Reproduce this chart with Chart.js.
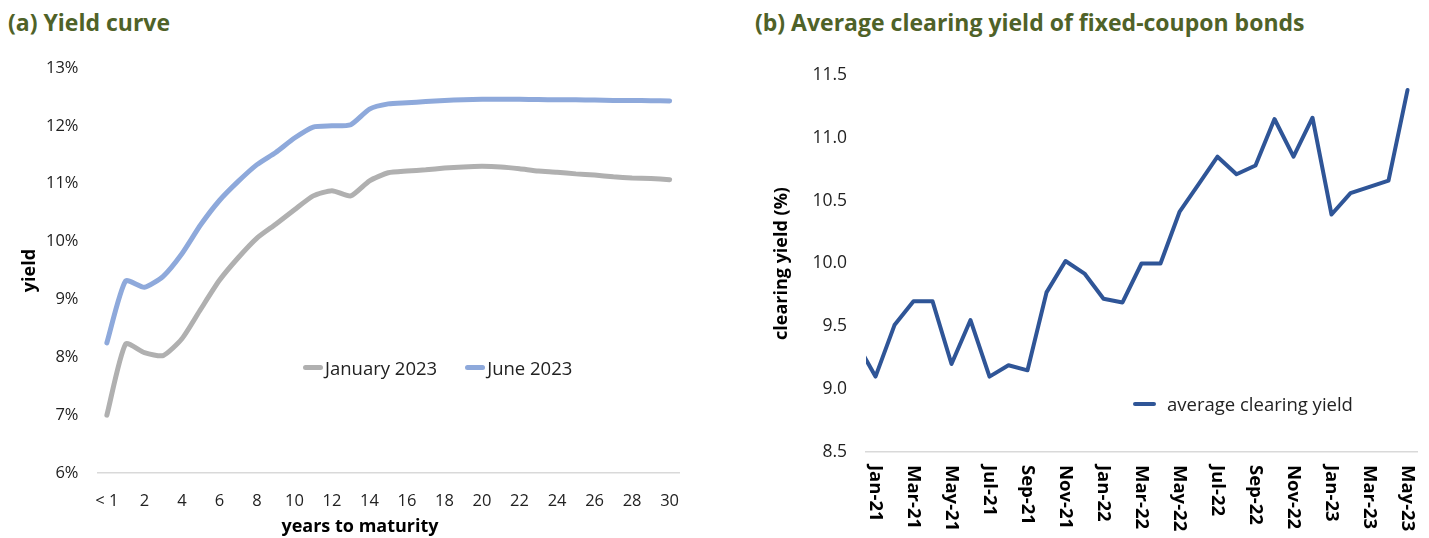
<!DOCTYPE html>
<html>
<head>
<meta charset="utf-8">
<script src="https://cdn.jsdelivr.net/npm/chart.js@4.4.0/dist/chart.umd.min.js"></script>
<style>
  body { margin: 0; width: 1429px; height: 538px; background: #fff; position: relative; overflow: hidden; font-family: "Open Sans", "Noto Sans", sans-serif; }
  .title { position: absolute; top: 6px; font-weight: bold; font-size: 23px; color: #4F6228; white-space: nowrap; }
  .box { position: absolute; top: 0; height: 538px; }
  .legend { position: absolute; display: flex; align-items: center; font-size: 18.5px; color: #222; white-space: nowrap; }
  .swatch { display: inline-block; height: 5px; border-radius: 3px; }
  .axis-title { position: absolute; font-weight: bold; font-size: 18px; color: #000; white-space: nowrap; transform: translateX(-50%); }
</style>
</head>
<body>
<div class="title" style="left:8px">(a) Yield curve</div>
<div class="title" style="left:755px">(b) Average clearing yield of fixed-coupon bonds</div>

<div class="box" style="left:0;width:700px"><canvas id="chartA"></canvas></div>
<div class="box" style="left:720px;width:709px"><canvas id="chartB"></canvas></div>

<div class="axis-title" style="left:360px;top:513px">years to maturity</div>

<div class="legend" style="left:303px;top:355px">
  <span class="swatch" style="width:20px;background:#B0B0B0"></span><span style="margin-left:2px">January 2023</span>
  <span class="swatch" style="width:20px;background:#8EA9DB;margin-left:28px"></span><span style="margin-left:2px">June 2023</span>
</div>
<div class="legend" style="left:1133px;top:391px">
  <span class="swatch" style="width:23px;height:4px;background:#2F5597"></span><span style="margin-left:11px">average clearing yield</span>
</div>

<script>
// (a) yield curve
const maturityLabels = ["< 1", "1", "2", "3", "4", "5", "6", "7", "8", "9", "10",
  "11", "12", "13", "14", "15", "16", "17", "18", "19", "20",
  "21", "22", "23", "24", "25", "26", "27", "28", "29", "30"];
const yieldJan2023 = [7.00, 8.23, 8.08, 8.03, 8.32, 8.83, 9.33, 9.72, 10.06, 10.30, 10.55,
  10.79, 10.88, 10.79, 11.05, 11.19, 11.22, 11.24, 11.27, 11.29, 11.30,
  11.29, 11.26, 11.22, 11.20, 11.17, 11.15, 11.12, 11.10, 11.09, 11.07];
const yieldJun2023 = [8.25, 9.32, 9.21, 9.40, 9.79, 10.29, 10.71, 11.04, 11.33, 11.54, 11.79,
  11.98, 12.00, 12.02, 12.29, 12.38, 12.40, 12.42, 12.44, 12.45, 12.46,
  12.46, 12.46, 12.455, 12.45, 12.45, 12.445, 12.44, 12.44, 12.435, 12.43];
const yieldTicks = [6, 7, 8, 9, 10, 11, 12, 13];

// (b) average clearing yield, Dec-20 point only shows as the cut-off start of the line
const months = ["Dec-20", "Jan-21", "Feb-21", "Mar-21", "Apr-21", "May-21", "Jun-21", "Jul-21", "Aug-21",
  "Sep-21", "Oct-21", "Nov-21", "Dec-21", "Jan-22", "Feb-22", "Mar-22", "Apr-22", "May-22",
  "Jun-22", "Jul-22", "Aug-22", "Sep-22", "Oct-22", "Nov-22", "Dec-22", "Jan-23", "Feb-23",
  "Mar-23", "Apr-23", "May-23"];
const clearingYield = [9.37, 9.10, 9.51, 9.70, 9.70, 9.20, 9.55, 9.10, 9.19,
  9.15, 9.77, 10.02, 9.92, 9.72, 9.69, 10.00, 10.00, 10.41,
  10.63, 10.85, 10.71, 10.78, 11.15, 10.85, 11.16, 10.39, 10.56,
  10.61, 10.66, 11.38];
const clearingTicks = [8.5, 9.0, 9.5, 10.0, 10.5, 11.0, 11.5];

const FONT = '"Open Sans", "Noto Sans", sans-serif';
const TEXT = "#222";

new Chart(document.getElementById("chartA"), {
  type: "line",
  data: {
    labels: maturityLabels,
    datasets: [
      { label: "January 2023", data: yieldJan2023, borderColor: "#B0B0B0", borderWidth: 5, tension: 0.2,
        pointRadius: 0, borderCapStyle: "round", borderJoinStyle: "round" },
      { label: "June 2023", data: yieldJun2023, borderColor: "#8EA9DB", borderWidth: 5, tension: 0.2,
        pointRadius: 0, borderCapStyle: "round", borderJoinStyle: "round" },
    ],
  },
  options: {
    responsive: true,
    maintainAspectRatio: false,
    animation: false,
    layout: { padding: { top: 68, right: 21, left: 0, bottom: 0 } },
    plugins: { legend: { display: false }, tooltip: { enabled: false } },
    scales: {
      x: {
        offset: true,
        grid: { display: false },
        border: { display: true, color: "#D9D9D9", width: 1.5 },
        ticks: {
          autoSkip: false, maxRotation: 0, padding: 10, color: TEXT, font: { family: FONT, size: 16.5 },
          callback: function (val, idx) { return idx % 2 === 0 ? this.getLabelForValue(val) : ""; },
        },
        afterFit: (scale) => { scale.height = 538 - 473; },
      },
      y: {
        min: 6, max: 13,
        grid: { display: false },
        border: { display: false },
        afterBuildTicks: (scale) => { scale.ticks = yieldTicks.map((v) => ({ value: v })); },
        ticks: { padding: 11, color: TEXT, font: { family: FONT, size: 16.5 }, callback: (v) => v + "%" },
        title: { display: true, text: "yield", color: "#000", padding: { top: 19 },
          font: { family: FONT, size: 18, weight: "bold" } },
        afterFit: (scale) => { scale.width = 97.5; },
      },
    },
  },
});

const verticalMonthLabels = {
  id: "verticalMonthLabels",
  afterDraw(chart) {
    const ctx = chart.ctx;
    const xs = chart.scales.x;
    ctx.save();
    ctx.font = "bold 18.5px " + FONT;
    ctx.fillStyle = "#000";
    ctx.textAlign = "left";
    ctx.textBaseline = "middle";
    months.forEach((m, i) => {
      if (i % 2 === 0) return;
      const x = xs.getPixelForValue(i);
      ctx.save();
      ctx.translate(x, xs.top + 13);
      ctx.rotate(Math.PI / 2);
      ctx.fillText(m, 0, 0);
      ctx.restore();
    });
    ctx.restore();
  },
};

new Chart(document.getElementById("chartB"), {
  type: "line",
  data: {
    datasets: [
      { label: "average clearing yield", data: months.map((m, i) => ({ x: i, y: clearingYield[i] })),
        borderColor: "#2F5597", borderWidth: 4, tension: 0, pointRadius: 0, clip: 0,
        borderJoinStyle: "round", borderCapStyle: "round" },
    ],
  },
  options: {
    responsive: true,
    maintainAspectRatio: false,
    animation: false,
    layout: { padding: { top: 75, right: 12, left: 0, bottom: 0 } },
    plugins: { legend: { display: false }, tooltip: { enabled: false } },
    scales: {
      x: {
        type: "linear",
        min: 0.5, max: 29.5,
        grid: { display: false },
        border: { display: true, color: "#D9D9D9", width: 1.5 },
        ticks: { display: false },
        afterFit: (scale) => { scale.height = 538 - 452; },
      },
      y: {
        min: 8.5, max: 11.5,
        grid: { display: false },
        border: { display: false },
        afterBuildTicks: (scale) => { scale.ticks = clearingTicks.map((v) => ({ value: v })); },
        ticks: { padding: 11, color: TEXT, font: { family: FONT, size: 17.5 }, callback: (v) => v.toFixed(1) },
        title: { display: true, text: "clearing yield (%)", color: "#000", padding: { top: 51 },
          font: { family: FONT, size: 18, weight: "bold" } },
        afterFit: (scale) => { scale.width = 146; },
      },
    },
  },
  plugins: [verticalMonthLabels],
});
</script>
</body>
</html>
